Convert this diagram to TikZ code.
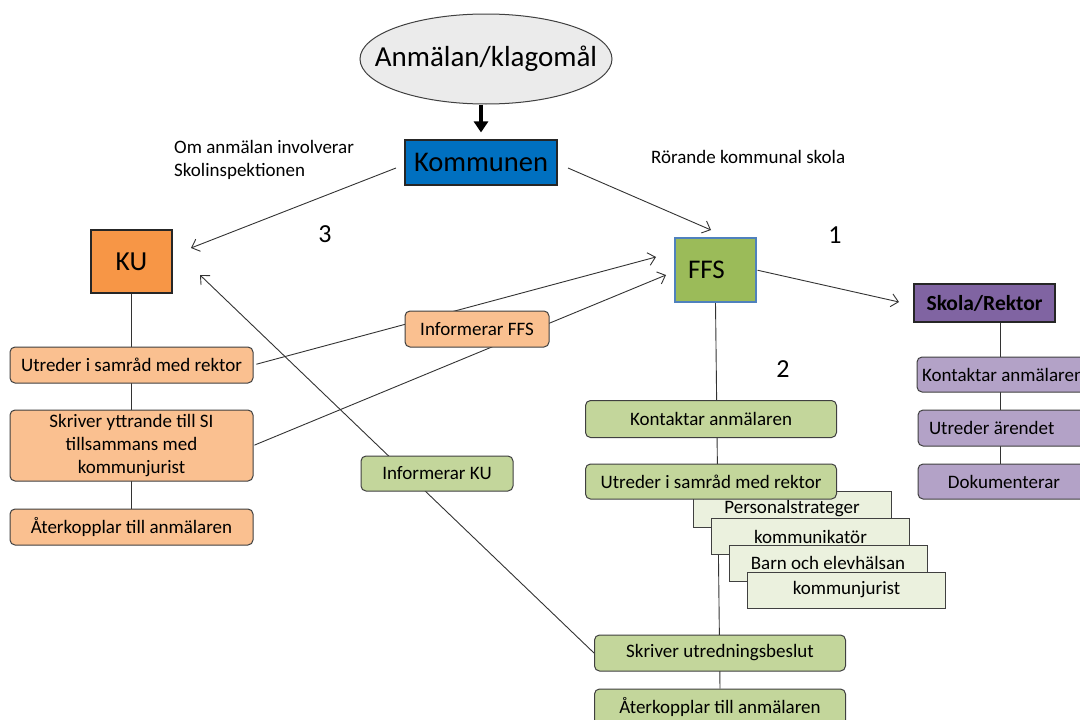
\documentclass[tikz,border=0pt]{standalone}
\usepackage{fontspec}
\setmainfont{Carlito}
\usetikzlibrary{arrows.meta,shapes.geometric,backgrounds,calc}
\definecolor{kblue}{HTML}{0070C0}
\definecolor{kuor}{HTML}{F79646}
\definecolor{ffsg}{HTML}{9BBB59}
\definecolor{ffsb}{HTML}{4F81BD}
\definecolor{skp}{HTML}{8064A2}
\definecolor{lor}{HTML}{FAC090}
\definecolor{lgr}{HTML}{C3D69B}
\definecolor{lpu}{HTML}{B3A2C7}
\definecolor{pale}{HTML}{EBF1DE}
\definecolor{elg}{HTML}{EBEBEB}
\begin{document}
\begin{tikzpicture}[x=1pt,y=-1pt,
  every node/.style={font=\fontsize{19}{23}\selectfont,text=black},
  bigbox/.style={draw=black!85,line width=1.1pt,inner sep=0pt,font=\fontsize{27.5}{31}\selectfont},
  rbox/.style={draw=black!75,line width=1pt,rounded corners=5pt,inner sep=0pt,align=center},
  obox/.style={rbox,fill=lor,minimum width=243pt},
  gbox/.style={rbox,fill=lgr,minimum width=251pt},
  pbox/.style={rbox,fill=lpu,minimum width=172pt,minimum height=36pt},
  stackbox/.style={draw=black!75,line width=1pt,fill=pale,inner sep=0pt,minimum width=198pt,minimum height=36pt},
  plain/.style={inner sep=0pt},
  num/.style={inner sep=0pt,font=\fontsize{26}{30}\selectfont},
  conn/.style={draw=black!80,line width=0.9pt},
  arr/.style={conn,-{Straight Barb[length=7pt,width=13pt]}}]
\useasboundingbox (0,0) rectangle (1080,720);
\clip (0,0) rectangle (1080,720);

% top
\node[ellipse,draw=black!75,line width=1pt,fill=elg,minimum width=252pt,minimum height=90pt,inner sep=0pt,font=\fontsize{29}{33}\selectfont] (anm) at (486,59) {\makebox[0pt]{Anmälan/klagomål}};
\node[bigbox,fill=kblue,minimum width=152pt,minimum height=45pt,font=\fontsize{28.5}{32}\selectfont] (kom) at (481,162.5) {Kommunen};
\node[plain,anchor=west,align=left] (om) at (174,159.5) {Om anmälan involverar\\Skolinspektionen};
\node[plain,anchor=west] (ror) at (651,157) {Rörande kommunal skola};

% main boxes
\node[bigbox,fill=kuor,minimum width=81pt,minimum height=63pt] (ku) at (131.5,261.5) {KU};
\node[bigbox,draw=ffsb,fill=ffsg,minimum width=81pt,minimum height=64pt,text width=55pt,inner xsep=13pt,align=flush left,font=\fontsize{27}{31}\selectfont] (ffs) at (715.5,270) {FFS};
\node[bigbox,fill=skp,minimum width=141pt,minimum height=38pt,font=\fontsize{21.5}{25}\selectfont\bfseries] (sk) at (984.5,303) {Skola/Rektor};

\node[num] (n3) at (325,234) {3};
\node[num] (n1) at (835,235) {1};
\node[num] (n2) at (783,369) {2};

% KU column
\node[obox,minimum height=36pt] (uku) at (131.5,365) {Utreder i samråd med rektor};
\node[obox,minimum height=71pt] (syk) at (131.5,445.5) {Skriver yttrande till SI\\tillsammans med\\kommunjurist};
\node[obox,minimum height=36pt] (aku) at (131.5,527) {Återkopplar till anmälaren};

\node[rbox,fill=lor,minimum width=144pt,minimum height=36pt] (iffs) at (477,329) {Informerar FFS};
\node[rbox,fill=lgr,minimum width=152pt,minimum height=35pt] (iku) at (437,473.5) {Informerar KU};

% FFS column
\node[gbox,minimum height=37pt] (kg) at (711,419) {Kontaktar anmälaren};
\node[stackbox] (ps) at (792,509) {Personalstrateger};
\node[stackbox] (pk) at (810.5,536.5) {kommunikatör};
\node[stackbox] (pb) at (828,563) {Barn och elevhälsan};
\node[stackbox] (pj) at (846.5,590) {kommunjurist};
\node[gbox,minimum height=35pt] (ug) at (711,481.5) {Utreder i samråd med rektor};
\node[gbox,minimum height=36pt] (sg) at (720,653) {Skriver utredningsbeslut};
\node[gbox,minimum height=36pt] (ag) at (720,707) {Återkopplar till anmälaren};

% Skola column
\node[pbox,minimum height=35pt] (pka) at (1003,374.5) {Kontaktar anmälaren};
\node[pbox,text width=150pt,inner xsep=11pt,align=flush left] (pue) at (1004,428) {Utreder ärendet};
\node[pbox,minimum height=35pt] (pdo) at (1004,481.5) {Dokumenterar};

% connector end points
\coordinate (c1s) at (396,168);
\coordinate (c1e) at (191,248);
\coordinate (c2s) at (568,168);
\coordinate (c2e) at (711,230);
\coordinate (c3e) at (899,302);
\coordinate (c4e) at (656,257);
\coordinate (c5e) at (666,275);
\coordinate (c6e) at (200,275);

\begin{pgfonlayer}{background}
\fill[white] (0,0) rectangle (1080,720);
\draw[line width=4.5pt,-{Triangle[length=11pt,width=14pt]},shorten >=7pt] (anm.south -| kom.north) -- (kom.north);
\draw[arr] (c1s) -- (c1e);
\draw[arr] (c2s) -- (c2e);
\draw[arr,shorten <=1pt] (ffs.east) -- (c3e);
\draw[arr,shorten <=3pt] (uku.east) -- (c4e);
\draw[arr,shorten <=1pt] (syk.east) -- (c5e);
\draw[arr] (sg.west) -- (c6e);
\draw[conn] (ku.south) -- (aku.north);
\draw[conn] (ffs.south) -- (ag.north);
\draw[conn] ($(sk.south)+(15.5,0)$) -- ($(pdo.north)+(-4,0)$);
\end{pgfonlayer}
\end{tikzpicture}
\end{document}
